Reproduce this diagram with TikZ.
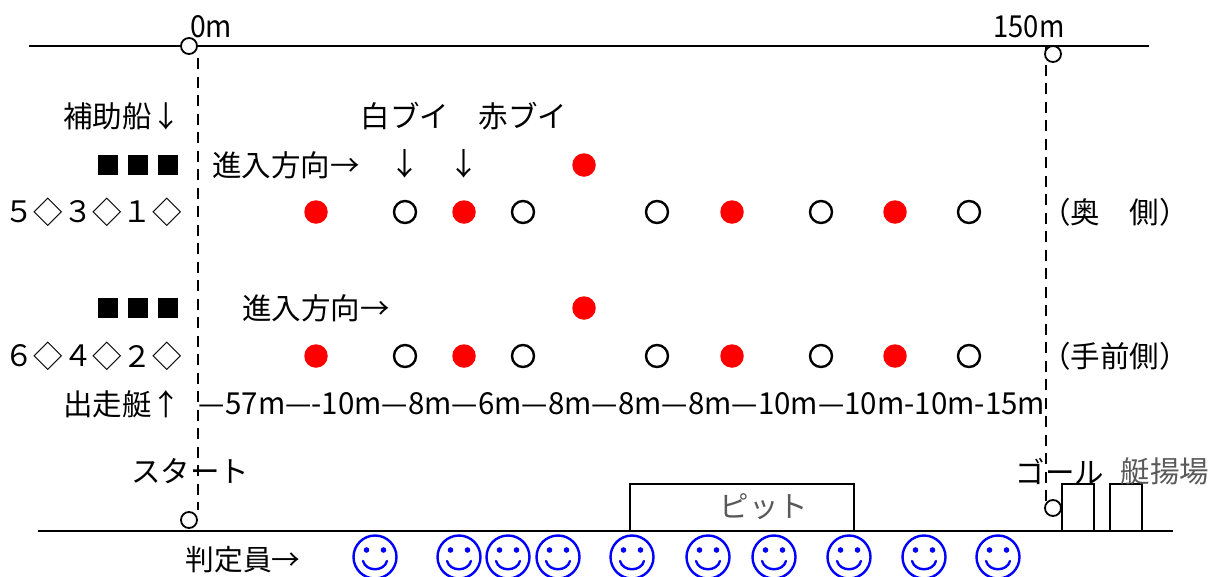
\documentclass[tikz,border=0pt]{standalone}
\usepackage{fontspec}
\setmainfont{Noto Sans CJK JP}
\usetikzlibrary{calc}
\tikzset{
  x=1pt,y=-1pt,
  lab/.style={inner sep=0pt,outer sep=0pt,font=\fontsize{29.5}{30}\selectfont,text=black},
  thinlab/.style={inner sep=0pt,outer sep=0pt,font=\fontsize{29.5}{30}\selectfont,text=black!65},
  latin/.style={inner sep=0pt,outer sep=0pt},
  arrowmark/.style={inner sep=0pt,outer sep=0pt,font=\fontsize{31}{31}\selectfont},
  redbuoy/.style={circle,fill=red,draw=none,minimum size=23.5pt,inner sep=0pt},
  whitebuoy/.style={circle,fill=white,draw=black,line width=2.4pt,minimum size=22pt,inner sep=0pt},
  post/.style={circle,fill=white,draw=black,line width=1.8pt,minimum size=16pt,inner sep=0pt},
  shore/.style={draw=black,line width=2pt},
  course/.style={draw=black,line width=2.5pt,dash pattern=on 11pt off 7.5pt},
  hut/.style={draw=black,line width=2pt,fill=white,anchor=north west,inner sep=0pt,minimum height=47pt}
}
\newcommand{\smiley}[1]{%
  \begin{scope}[shift={(#1,557)}]
    \draw[blue,line width=2.4pt] (0,0) circle (21.5);
    \fill[blue] (-8.5,-7) circle (2.8) (8.5,-7) circle (2.8);
    \draw[blue,line width=2.4pt,line cap=round] (-12,4) .. controls (-9,15) and (9,15) .. (12,4);
  \end{scope}}
\begin{document}
\begin{tikzpicture}
\useasboundingbox (0,0) rectangle (1208,576);
\clip (0,0) rectangle (1208,576);
% shore lines
\coordinate (tl) at (29,46); \coordinate (tr) at (1149,46);
\coordinate (bl) at (38,531); \coordinate (br) at (1173,531);
\draw[shore] (tl) -- (tr);
\draw[shore] (bl) -- (br);
% course lines
\coordinate (s1) at (198,58); \coordinate (s2) at (198,510);
\coordinate (g1) at (1046,46); \coordinate (g2) at (1046,505);
\draw[course] (s1) -- (s2);
\draw[course] (g1) -- (g2);
% huts
\node[hut,minimum width=224pt] (pit) at (628.5,483) {};
\node[thinlab] (pittext) at (764,507) {ピット};
\node[hut,minimum width=32pt] (h1) at (1060.5,483) {};
\node[hut,minimum width=32pt] (h2) at (1108.5,483) {};
% posts
\node[post] (p1) at (189,46) {};
\node[post] (p2) at (189,520) {};
\node[post] (p3) at (1053,54) {};
\node[post] (p4) at (1053,508) {};
% distance labels
\node[latin] (zero) at (211,27) {\resizebox{42pt}{22pt}{0m}};
\node[latin] (onefifty) at (1029,27) {\resizebox{71pt}{22pt}{150m}};
% left labels
\node[lab] (hojo) at (122,116) {補助船↓};
\node[lab] (shiro) at (405,116) {白ブイ};
\node[lab] (aka) at (523,116) {赤ブイ};
\node[lab] (shinnyu1) at (286,165) {進入方向→};
\node[arrowmark] (da1) at (405,164) {↓};
\node[arrowmark] (da2) at (464,164) {↓};
\foreach \y in {165,308}{
  \fill (98,\y-10) rectangle +(20,20);
  \fill (128,\y-10) rectangle +(20,20);
  \fill (158,\y-10) rectangle +(20,20);
}
\foreach \y/\a/\b/\c/\k in {212/５/３/１/u,356/６/４/２/v}{
  \node[lab] (n1\k) at (19,\y) {\a};
  \node[lab] (d1\k) at (48,\y) {◇};
  \node[lab] (n2\k) at (78,\y) {\b};
  \node[lab] (d2\k) at (107,\y) {◇};
  \node[lab] (n3\k) at (137,\y) {\c};
  \node[lab] (d3\k) at (167,\y) {◇};
}
\node[lab] (okugawa) at (1115,212) {（奥　側）};
\node[lab] (temaegawa) at (1115,356) {（手前側）};
\node[lab] (shinnyu2) at (316,308) {進入方向→};
\node[lab] (shusso) at (122,404) {出走艇↑};
% buoys
\node[redbuoy] (ra) at (584,165) {};
\node[redbuoy] (rb) at (584,308) {};
\foreach \y/\k in {212/u,356/v}{
  \foreach \x/\i in {316/1,464/2,732/3,895/4}{\node[redbuoy] (r\i\k) at (\x,\y) {};}
  \foreach \x/\i in {405/1,523/2,657/3,821/4,969/5}{\node[whitebuoy] (w\i\k) at (\x,\y) {};}
}
% distances
\node[inner sep=0pt] (dist) at (622,404) {\resizebox{846pt}{22pt}{\fontsize{26}{26}\selectfont —57m—-10m—8m—6m—8m—8m—8m—10m—10m-10m-15m}};
% start, goal
\node[lab] (start) at (190,471) {スタート};
\node[lab] (goal) at (1060,471) {ゴール};
\node[thinlab] (tei) at (1165,471) {艇揚場};
\node[lab,font=\fontsize{27}{27}\selectfont,scale=1] (hantei) at (243,560) {\resizebox{115pt}{!}{判定員→}};
% judges
\foreach \x in {375,459,508,558,632,708,774,849,924,998}{\smiley{\x}}
\end{tikzpicture}
\end{document}
